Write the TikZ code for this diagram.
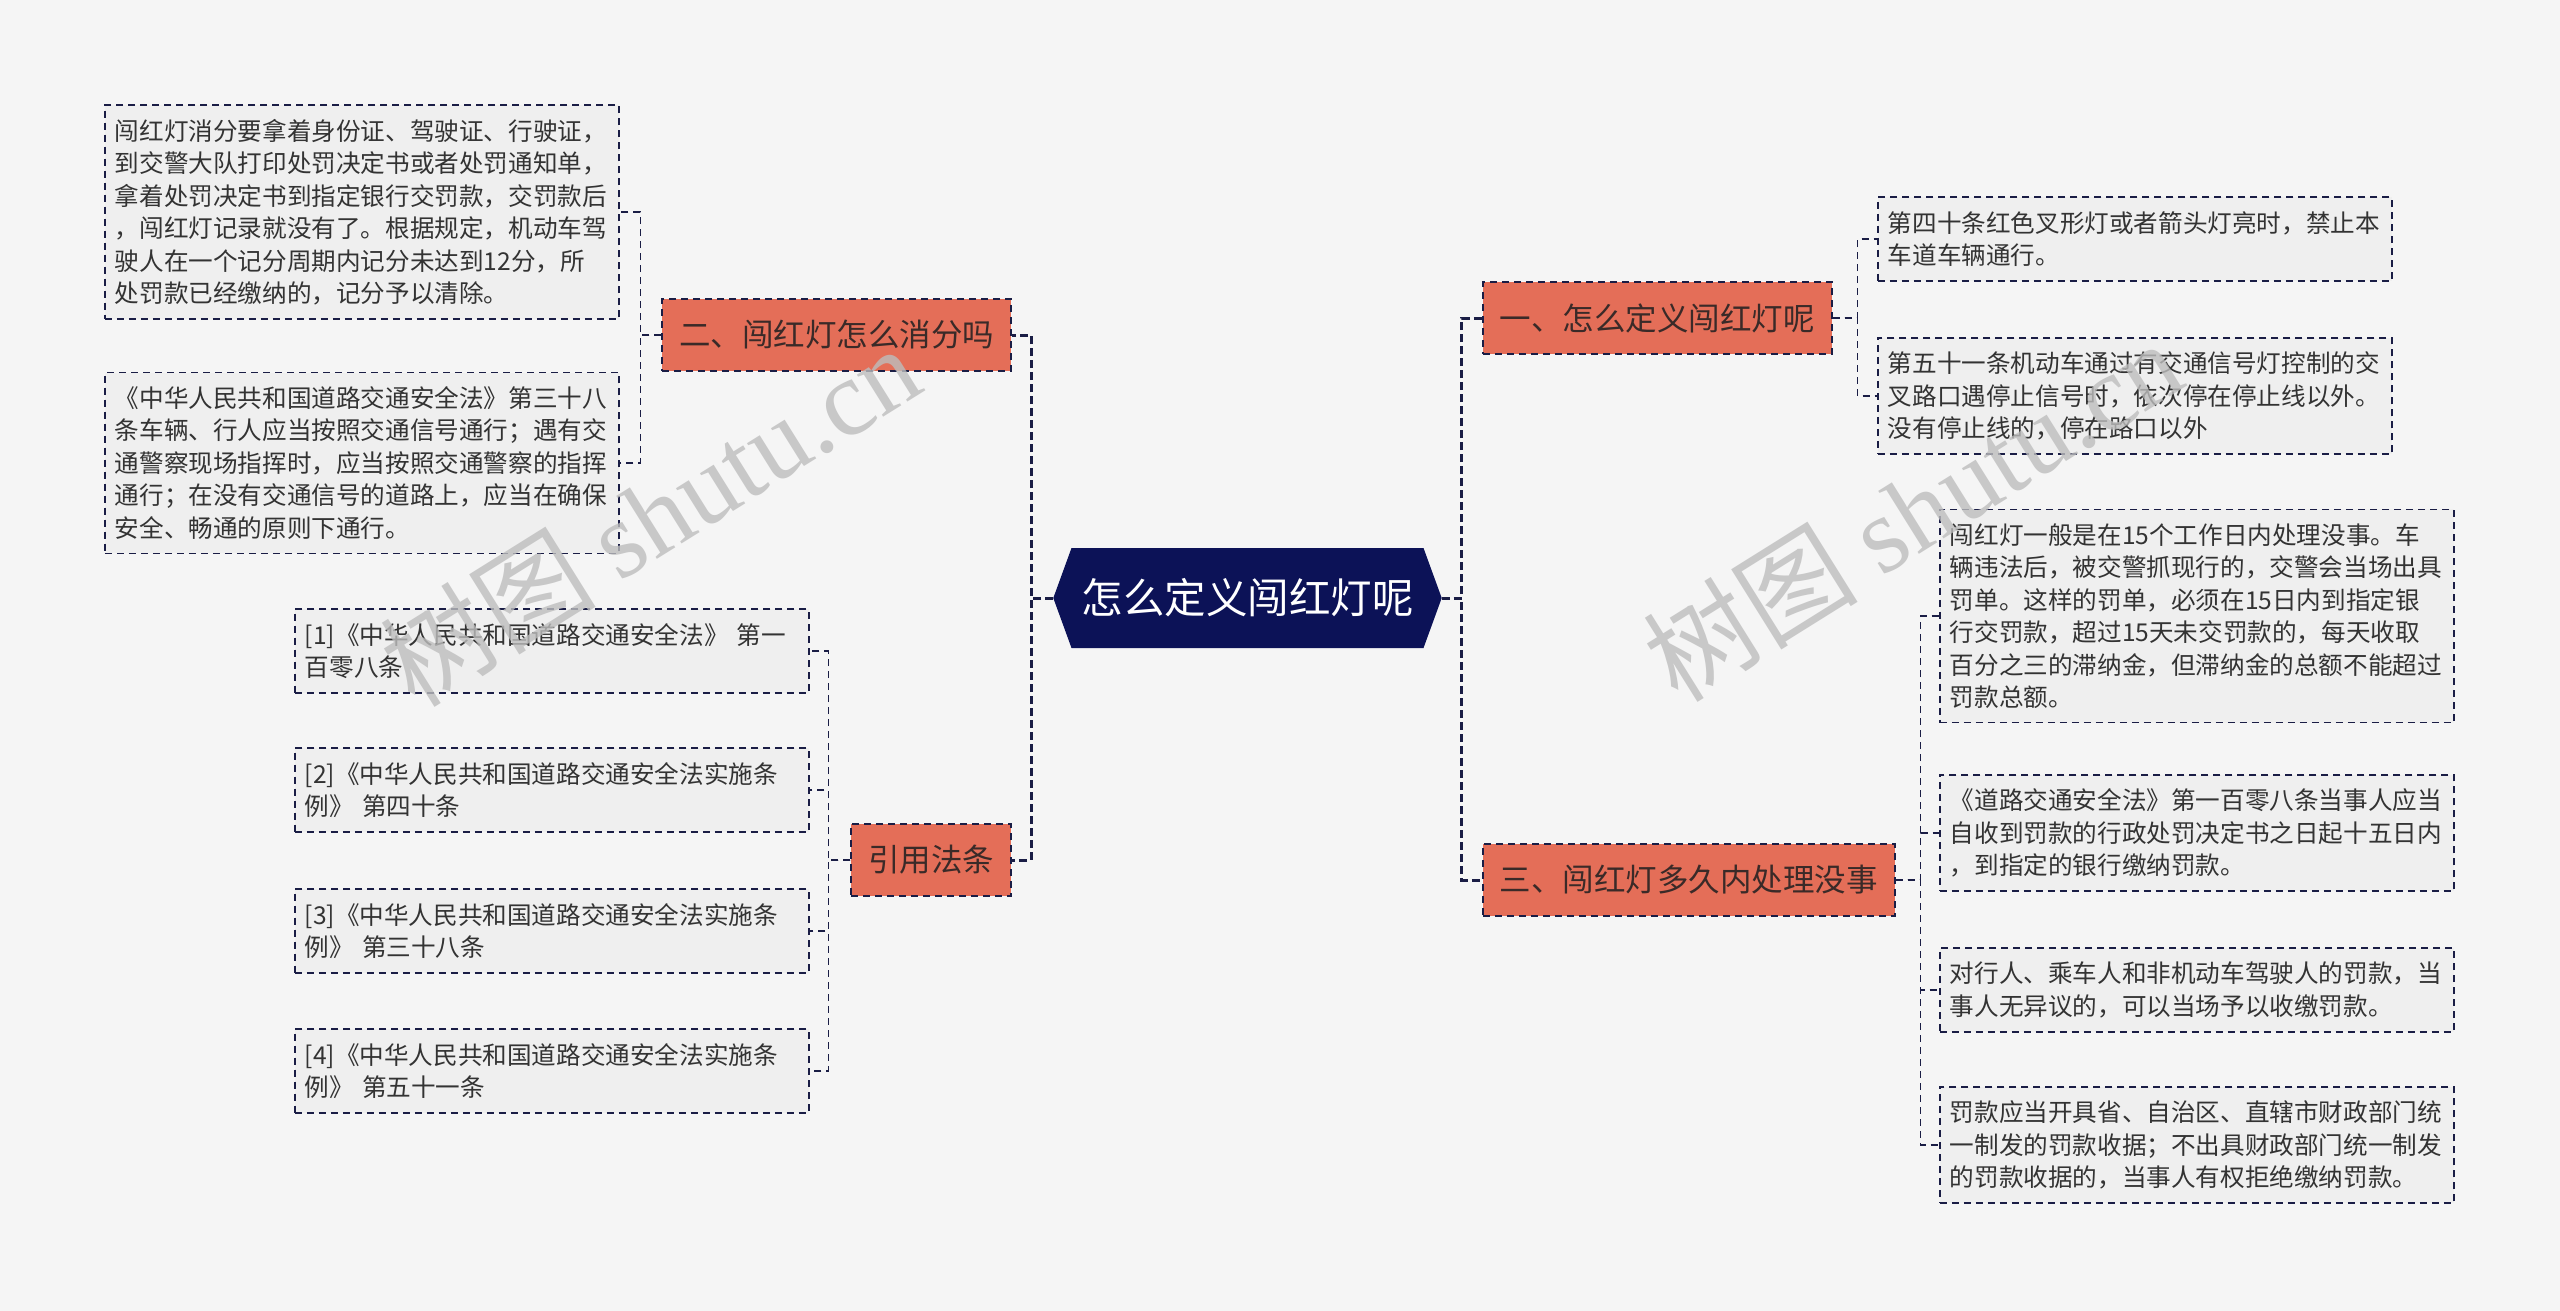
\documentclass[tikz,border=0pt]{standalone}
\usepackage{fontspec}
\setmainfont{Noto Sans CJK SC}
\newfontfamily\wmserif{Liberation Serif}
\usepackage{tikz}
\usetikzlibrary{shapes.symbols}

\definecolor{bgcol}{HTML}{F5F5F5}
\definecolor{rootblue}{HTML}{0C1257}
\definecolor{salmon}{HTML}{E46E58}
\definecolor{linedark}{HTML}{1A1D45}
\definecolor{leafgrey}{HTML}{EFEFEF}
\definecolor{leaftext}{HTML}{333333}
\definecolor{topictext}{HTML}{3A2A28}
\definecolor{wmgrey}{HTML}{BDBDBD}

\begin{document}
\begin{tikzpicture}[x=1pt,y=-1pt,
    root/.style={signal,signal to=west and east,signal pointer angle=140,fill=rootblue,text=white,
      font=\fontsize{41.5}{48}\selectfont,minimum height=100pt,inner xsep=10pt},
    topic/.style={draw=linedark,line width=1.6pt,dash pattern=on 7pt off 5pt,fill=salmon,text=topictext,
      font=\fontsize{31.5}{36}\selectfont,minimum height=72pt,inner xsep=17pt},
    leaf/.style={draw=linedark,line width=1.6pt,dash pattern=on 7pt off 5pt,fill=leafgrey,text=leaftext,
      font=\fontsize{24.6}{32.5}\selectfont,text width=494pt,align=left,inner xsep=10pt,inner ysep=14pt},
    trunk/.style={draw=linedark,line width=3pt,dash pattern=on 8pt off 4pt},
    twig/.style={draw=linedark,line width=1.6pt,dash pattern=on 7pt off 5pt},
    watermark/.style={text=wmgrey,opacity=0.8,font=\fontsize{108}{112}\selectfont,rotate=32}]
      \fill[bgcol] (0,0) rectangle (2560,1311);
      \useasboundingbox (0,0) rectangle (2560,1311);

      \node[root] (0) at (1247.5,598) {怎么定义闯红灯呢};
      \node[topic,anchor=west] (1) at (1482,318) {一、怎么定义闯红灯呢};
      \node[topic,anchor=east] (2) at (1012,335) {二、闯红灯怎么消分吗};
      \node[topic,anchor=west] (3) at (1482,880) {三、闯红灯多久内处理没事};
      \node[topic,anchor=east] (4) at (1012,860) {引用法条};

      \node[leaf,anchor=west] (11) at (1877,239) {第四十条红色叉形灯或者箭头灯亮时，禁止本\\车道车辆通行。};
      \node[leaf,anchor=west] (12) at (1877,396) {第五十一条机动车通过有交通信号灯控制的交\\叉路口遇停止信号时，依次停在停止线以外。\\没有停止线的，停在路口以外};

      \node[leaf,anchor=west] (21) at (104,212) {闯红灯消分要拿着身份证、驾驶证、行驶证，\\到交警大队打印处罚决定书或者处罚通知单，\\拿着处罚决定书到指定银行交罚款，交罚款后\\，闯红灯记录就没有了。根据规定，机动车驾\\驶人在一个记分周期内记分未达到12分，所\\处罚款已经缴纳的，记分予以清除。};
      \node[leaf,anchor=west] (22) at (104,463) {《中华人民共和国道路交通安全法》第三十八\\条车辆、行人应当按照交通信号通行；遇有交\\通警察现场指挥时，应当按照交通警察的指挥\\通行；在没有交通信号的道路上，应当在确保\\安全、畅通的原则下通行。};

      \node[leaf,anchor=west] (31) at (1939,616) {闯红灯一般是在15个工作日内处理没事。车\\辆违法后，被交警抓现行的，交警会当场出具\\罚单。这样的罚单，必须在15日内到指定银\\行交罚款，超过15天未交罚款的，每天收取\\百分之三的滞纳金，但滞纳金的总额不能超过\\罚款总额。};
      \node[leaf,anchor=west] (32) at (1939,833) {《道路交通安全法》第一百零八条当事人应当\\自收到罚款的行政处罚决定书之日起十五日内\\，到指定的银行缴纳罚款。};
      \node[leaf,anchor=west] (33) at (1939,990) {对行人、乘车人和非机动车驾驶人的罚款，当\\事人无异议的，可以当场予以收缴罚款。};
      \node[leaf,anchor=west] (34) at (1939,1145) {罚款应当开具省、自治区、直辖市财政部门统\\一制发的罚款收据；不出具财政部门统一制发\\的罚款收据的，当事人有权拒绝缴纳罚款。};

      \node[leaf,anchor=west] (41) at (294,651) {[1]《中华人民共和国道路交通安全法》~第一\\百零八条};
      \node[leaf,anchor=west] (42) at (294,790) {[2]《中华人民共和国道路交通安全法实施条\\例》~第四十条};
      \node[leaf,anchor=west] (43) at (294,931) {[3]《中华人民共和国道路交通安全法实施条\\例》~第三十八条};
      \node[leaf,anchor=west] (44) at (294,1071) {[4]《中华人民共和国道路交通安全法实施条\\例》~第五十一条};

      \draw[trunk] (0.east) -- ++(20,0) |- (1.west);
      \draw[trunk] (0.east) -- ++(20,0) |- (3.west);
      \draw[trunk] (0.west) -- ++(-22,0) |- (2.east);
      \draw[trunk] (0.west) -- ++(-22,0) |- (4.east);

      \draw[twig] (1.east) -- ++(25,0) |- (11.west);
      \draw[twig] (1.east) -- ++(25,0) |- (12.west);
      \draw[twig] (2.west) -- ++(-21,0) |- (21.east);
      \draw[twig] (2.west) -- ++(-21,0) |- (22.east);
      \draw[twig] (3.east) -- ++(25,0) |- (31.west);
      \draw[twig] (3.east) -- ++(25,0) |- (32.west);
      \draw[twig] (3.east) -- ++(25,0) |- (33.west);
      \draw[twig] (3.east) -- ++(25,0) |- (34.west);
      \draw[twig] (4.west) -- ++(-22,0) |- (41.east);
      \draw[twig] (4.west) -- ++(-22,0) |- (42.east);
      \draw[twig] (4.west) -- ++(-22,0) |- (43.east);
      \draw[twig] (4.west) -- ++(-22,0) |- (44.east);

      \node[watermark] (w1) at (650,515) {树图 {\wmserif shutu.cn}};
      \node[watermark] (w2) at (1912,510) {树图 {\wmserif shutu.cn}};
    \end{tikzpicture}
\end{document}
